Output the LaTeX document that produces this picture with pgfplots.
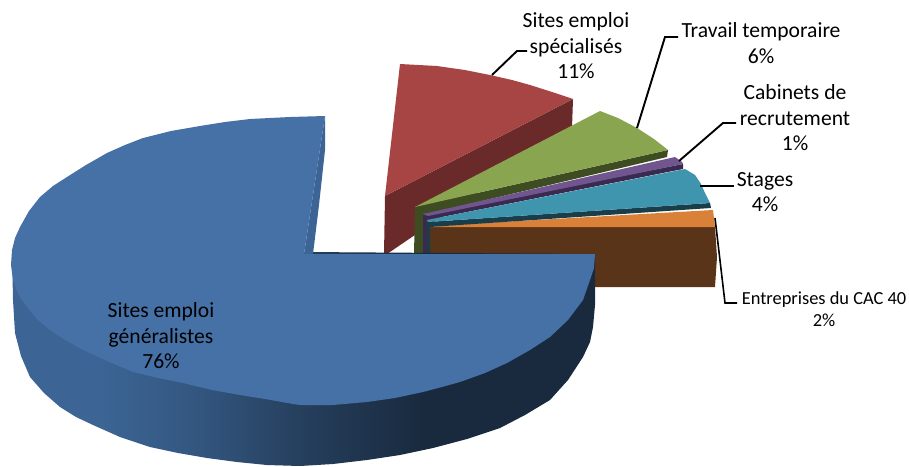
\documentclass[border=0pt]{standalone}
\usepackage{pgfplots}
\pgfplotsset{compat=1.18}
\usepackage{fontspec}
\setmainfont{Carlito}
\definecolor{cblue}{HTML}{4571A6}
\definecolor{cbluewall}{HTML}{3C6595}
\definecolor{cred}{HTML}{A64543}
\definecolor{credd}{HTML}{6B2A2A}
\definecolor{cgreen}{HTML}{8AA550}
\definecolor{cgreend}{HTML}{3E4C22}
\definecolor{cpurple}{HTML}{71558F}
\definecolor{cpurpled}{HTML}{3A2A50}
\definecolor{cteal}{HTML}{3F95AE}
\definecolor{ctealld}{HTML}{1A3D4A}
\definecolor{corange}{HTML}{D98139}
\definecolor{cbrown}{HTML}{5A3418}
\pgfdeclarehorizontalshading{blueside}{100bp}{
  color(0bp)=(cbluewall);
  color(32.5bp)=(cbluewall);
  color(41bp)=(cbluewall!85!black);
  color(50bp)=(cbluewall!62!black);
  color(60bp)=(cbluewall!42!black);
  color(100bp)=(cbluewall!40!black)}
\begin{document}
\begin{tikzpicture}
\path[use as bounding box] (0,0) rectangle (909pt,466pt);
\begin{axis}[
  anchor=south west, at={(0,0)},
  scale only axis, width=909pt, height=466pt,
  xmin=0, xmax=909, ymin=0, ymax=466, y dir=reverse,
  hide axis, clip=false,
  every axis plot/.append style={no markers},
]
% brown side and orange top
\addplot[draw=none, fill=cbrown] coordinates {(428,227)(715,227)(717,257)(715,287)(590,287)(590,254)(428,254)} -- cycle;
\addplot[draw=none, fill=corange] coordinates {(428,227)(483,223)(713,210)(715,227)} -- cycle;
% red
\addplot[draw=none, fill=credd] coordinates {(573,99)(572,128)(387,254)(384,254)(385,196)} -- cycle;
\addplot[draw=none, fill=cred] coordinates {(400,64)(437,66)(465,70)(490,75)(512,80)(530,85)(552,92)(573,99)(385,196)} -- cycle;
% green
\addplot[draw=none, fill=cgreend] coordinates {(668,150)(667,157)(423,215)(423,254)(414,254)(415,207)} -- cycle;
\addplot[draw=none, fill=cgreen] coordinates {(415,207)(600,111)(618,118)(637,128)(654,139)(668,150)} -- cycle;
% purple
\addplot[draw=none, fill=cpurpled] coordinates {(683,164)(683,169)(427,220)(427,254)(423,254)(423,215)} -- cycle;
\addplot[draw=none, fill=cpurple] coordinates {(423,214)(675,157)(682,162)(683,164)(428,216)} -- cycle;
% teal
\addplot[draw=none, fill=ctealld] coordinates {(427,222)(710,203)(711,208)(430,227)(430,254)(427,254)} -- cycle;
\addplot[draw=none, fill=cteal] coordinates {(427,220)(685,169)(695,175)(701,184)(705,193)(710,203)(428,222)} -- cycle;
% blue side, inner wall and top
\addplot[draw=none, shading=blueside, shading angle=0] coordinates {(12,250)(13,300)(15,333)(21,356)(30,377)(44,393)(60,407)(76,417)(93,425)(120,437)(150,447)(178,453)(207,458)(237,462)(267,465)(300,466)(333,464)(367,460)(400,455)(433,448)(467,439)(500,428)(525,415)(550,400)(568,380)(583,357)(590,342)(593,327)(595,305)(595,280)(595,254)} -- cycle;
\addplot[draw=none, fill=cbluewall] coordinates {(325,116)(325,150)(319,205)(313,254)(304,254)} -- cycle;
\addplot[draw=none, fill=cblue] coordinates {(304,254)(313,254)(595,254)(594,268)(590,280)(583,300)(568,320)(550,337)(530,350)(507,363)(485,373)(460,382)(442,387)(423,392)(395,398)(367,402)(333,405)(300,405)(293,404)(265,399)(240,395)(212,390)(183,383)(158,378)(133,372)(107,361)(83,350)(65,340)(50,330)(37,319)(27,307)(18,294)(13,280)(11,265)(12,250)(15,238)(20,227)(29,211)(40,197)(53,186)(67,177)(86,165)(107,153)(125,145)(143,138)(171,131)(200,126)(225,122)(250,119)(290,117)(325,116)} -- cycle;
% leader lines
\addplot[black, line width=1.9pt] coordinates {(492,75)(517,51)(527,51)};
\addplot[black, line width=1.9pt] coordinates {(637,128)(665,37)(678,37)};
\addplot[black, line width=1.9pt] coordinates {(679,161)(723,123)(736,123)};
\addplot[black, line width=1.9pt] coordinates {(700,186)(734,186)};
\addplot[black, line width=1.6pt] coordinates {(715,218)(725,303)(737,303)};
% labels
\node[align=center, font=\fontsize{21.6}{25.5}\selectfont, text=black] at (axis cs:161,336) {Sites emploi\\généralistes\\76\%};
\node[align=center, font=\fontsize{21.6}{25.5}\selectfont, text=black] at (axis cs:576,46) {Sites emploi\\spécialisés\\11\%};
\node[align=center, font=\fontsize{21.6}{25.5}\selectfont, text=black] at (axis cs:761,43) {Travail temporaire\\6\%};
\node[align=center, font=\fontsize{21.6}{25.5}\selectfont, text=black] at (axis cs:795,118) {Cabinets de\\recrutement\\1\%};
\node[align=center, font=\fontsize{21.6}{25.5}\selectfont, text=black] at (axis cs:765,192) {Stages\\4\%};
\node[align=center, font=\fontsize{18.4}{22}\selectfont, text=black] at (axis cs:824,309) {Entreprises du CAC 40\\2\%};
\end{axis}
\end{tikzpicture}
\end{document}
